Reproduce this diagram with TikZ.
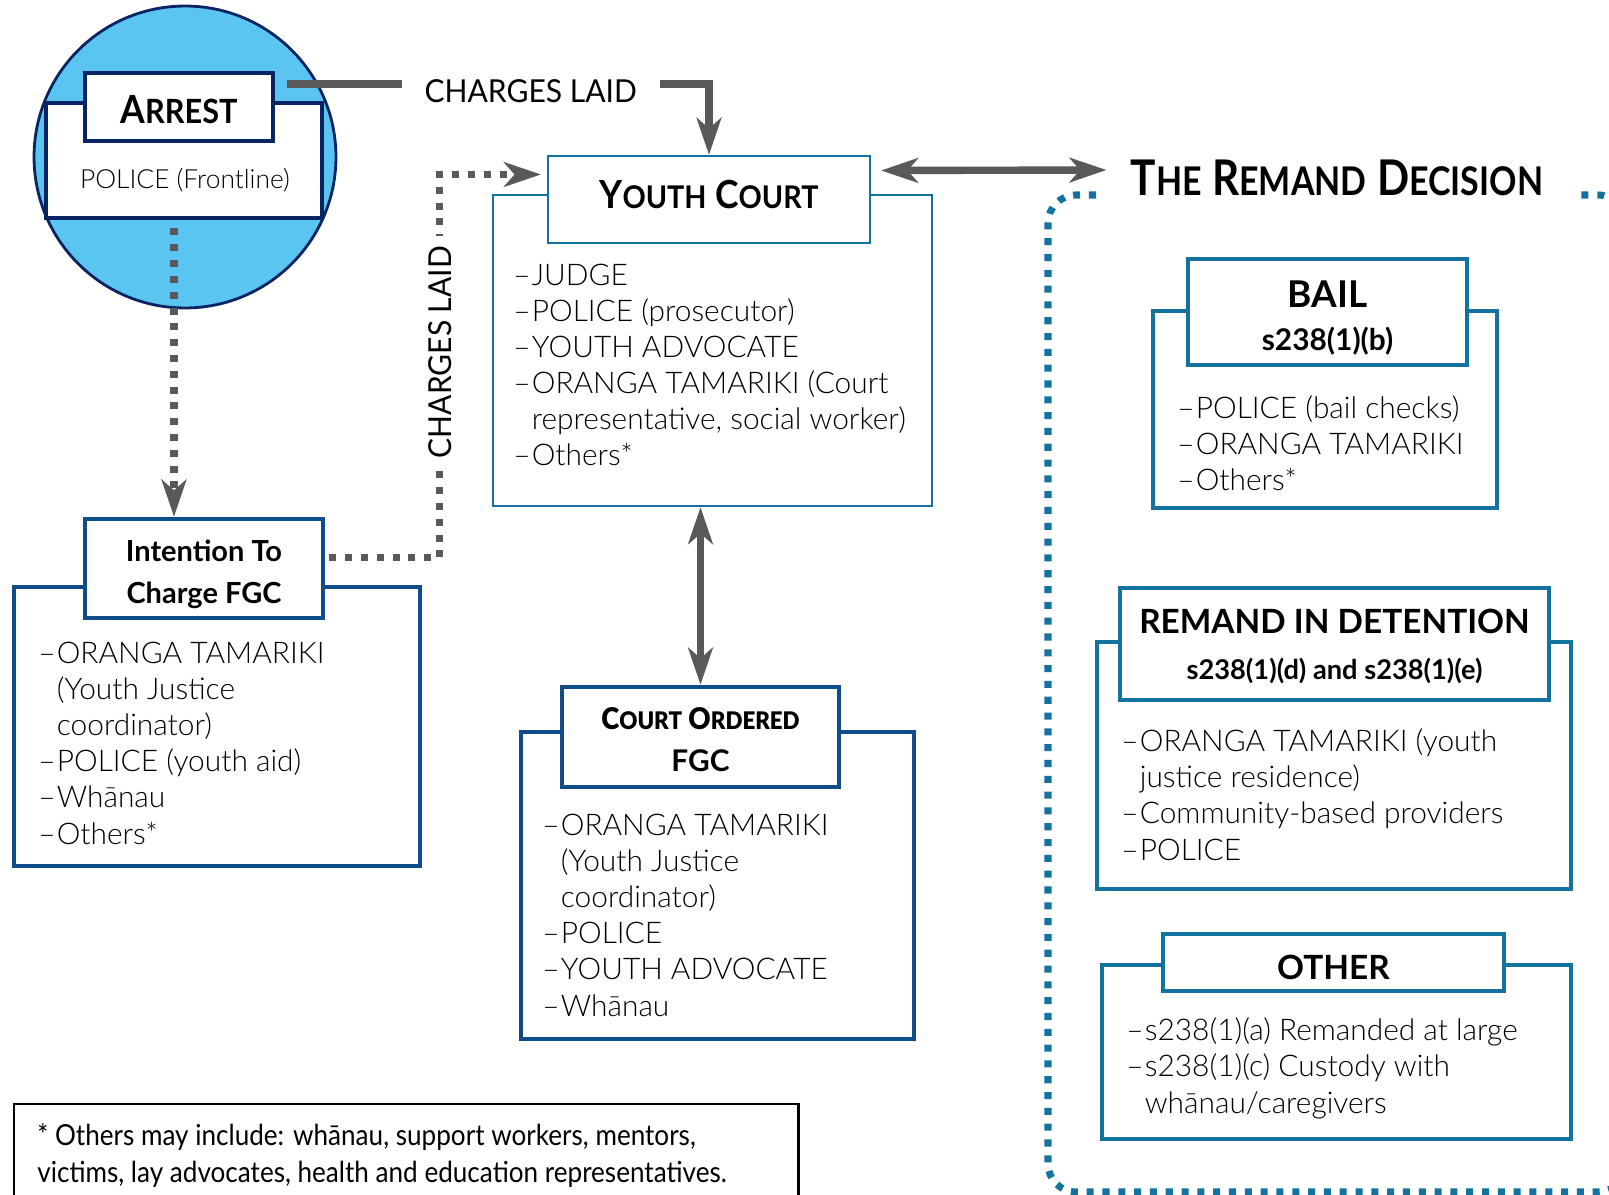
\documentclass[tikz,border=0pt]{standalone}
\usepackage{fontspec}
\setmainfont{Lato}[UprightFont=* Light, BoldFont=* Bold]
\newfontfamily\condfont{Lato}[FakeStretch=0.9]
\newfontfamily\labelfont{Lato}[FakeStretch=0.95]
\newfontfamily\scfont{Lato Bold}[FakeStretch=0.92]
\newfontfamily\titlefont{Lato Bold}[FakeStretch=0.86]
\usetikzlibrary{arrows.meta,positioning,calc,fit}

\definecolor{navy}{RGB}{10,36,99}
\definecolor{fgcblue}{RGB}{14,76,138}
\definecolor{courtblue}{RGB}{19,115,158}
\definecolor{skyfill}{RGB}{91,197,242}
\definecolor{arrowgrey}{RGB}{89,89,89}

\newcommand\lst{\fontsize{17}{20.5}\selectfont}
\newcommand\dsh{\makebox[0.62em][l]{–}}
\newcommand\ind{\hspace*{0.62em}}
\newcommand\bigsc[4]{{\fontsize{#1}{#1}\selectfont #3}{\fontsize{#2}{#2}\selectfont #4}}
\newcommand\tabstrut[1]{\rule{0pt}{#1}}

\begin{document}
\begin{tikzpicture}[
  x=0.02cm, y=-0.02cm, >=Stealth,
  every node/.style={inner sep=0pt},
  bodybox/.style={draw, fill=white},
  tabbox/.style={draw, fill=white, align=center, font=\bfseries},
  navybox/.style={draw=navy, line width=2.8pt},
  fgcbox/.style={draw=fgcblue, line width=2.6pt},
  remandbox/.style={draw=courtblue, line width=2.4pt},
  listtext/.style={anchor=base west, align=left, font=\lst},
  conn/.style={draw=arrowgrey, line width=4.2pt},
  dotconn/.style={draw=arrowgrey, line width=4pt, dash pattern=on 4pt off 5pt},
  headtip/.style={-{Stealth[length=21pt, width=14pt, inset=6pt]}},
  dbltip/.style={{Stealth[length=21pt, width=14pt, inset=6pt]}-{Stealth[length=21pt, width=14pt, inset=6pt]}},
  condlabel/.style={font=\labelfont\fontsize{18}{20}\selectfont, text=black, fill=white},
]
\useasboundingbox (0,0) rectangle (1609,1195);

% arrest
\node[circle, draw=navy, line width=1.6pt, fill=skyfill, minimum size=6.04cm] (arrestcircle) at (185,157) {};
\node[bodybox, navybox, fit={(46,103) (322,218)}] (arrestbody) {};
\node[font=\fontsize{15}{17}\selectfont] (police) at (185,180) {POLICE (Frontline)};
\node[tabbox, navybox, minimum width=3.76cm, minimum height=1.36cm, font=\scfont\fontsize{22}{26}\selectfont] (arrest) at (179,107)
  {\tabstrut{19pt}\bigsc{22}{19}{A}{RREST}};

% intention to charge FGC
\node[bodybox, fgcbox, fit={(14,587) (420,866)}] (itcbody) {};
\node[tabbox, fgcbox, minimum width=4.76cm, minimum height=1.98cm, font=\bfseries\fontsize{16.5}{24}\selectfont] (itc) at (204,568.5)
  {\tabstrut{19pt}Intention To\\Charge FGC};
\node[listtext] (itclist) at (38,844) {\dsh ORANGA TAMARIKI\\\ind(Youth Justice\\\ind coordinator)\\\dsh POLICE (youth aid)\\\dsh Whānau\\\dsh Others*};

% youth court
\node[bodybox, draw=courtblue, line width=1.3pt, fit={(493,195) (932,506)}] (ycbody) {};
\node[tabbox, draw=courtblue, line width=1.3pt, minimum width=6.44cm, minimum height=1.74cm, font=\scfont\fontsize{22}{26}\selectfont] (yc) at (709,199.5)
  {\rule[-6pt]{0pt}{6pt}\bigsc{22}{17.8}{Y}{OUTH}\ \bigsc{22}{17.8}{C}{OURT}};
\node[listtext] (yclist) at (513,466) {\dsh JUDGE\\\dsh POLICE (prosecutor)\\\dsh YOUTH ADVOCATE\\\dsh ORANGA TAMARIKI (Court\\\ind representative, social worker)\\\dsh Others*};

% court ordered FGC
\node[bodybox, fgcbox, fit={(521,732) (914,1039)}] (cofbody) {};
\node[tabbox, fgcbox, minimum width=5.54cm, minimum height=2cm, font=\bfseries\fontsize{17}{24}\selectfont] (cof) at (700.5,737)
  {\tabstrut{15.6pt}{\scfont\bigsc{17}{13.8}{C}{OURT}\ \bigsc{17}{13.8}{O}{RDERED}}\\FGC};
\node[listtext] (coflist) at (542,1016) {\dsh ORANGA TAMARIKI\\\ind(Youth Justice\\\ind coordinator)\\\dsh POLICE\\\dsh YOUTH ADVOCATE\\\dsh Whānau};

% the remand decision
\draw[draw=courtblue, line width=4pt, dash pattern=on 4pt off 5pt, rounded corners=16pt]
  (1096,195) -- (1048,195) -- (1048,1192) -- (1626,1192) -- (1626,195) -- (1575,195);
\node[font=\titlefont\fontsize{28}{32}\selectfont] (remand) at (1337,178)
  {\bigsc{28}{22.5}{T}{HE}\ \bigsc{28}{22.5}{R}{EMAND}\ \bigsc{28}{22.5}{D}{ECISION}};

\node[bodybox, remandbox, fit={(1153,311) (1497,508)}] (bailbody) {};
\node[tabbox, remandbox, minimum width=5.58cm, minimum height=2.12cm, font=\bfseries\fontsize{21}{25}\selectfont] (bail) at (1327.5,312)
  {\tabstrut{22pt}BAIL\\{\fontsize{17}{17}\selectfont s238(1)(b)}};
\node[listtext] (baillist) at (1177,491) {\dsh POLICE (bail checks)\\\dsh ORANGA TAMARIKI\\\dsh Others*};

\node[bodybox, remandbox, fit={(1097,642) (1571,889)}] (ridbody) {};
\node[tabbox, remandbox, minimum width=8.58cm, minimum height=2.24cm, font=\bfseries\fontsize{19}{26}\selectfont] (rid) at (1334.5,644)
  {\tabstrut{17pt}REMAND IN DETENTION\\{\fontsize{15.5}{15.5}\selectfont s238(1)(d) and s238(1)(e)}};
\node[listtext] (ridlist) at (1121,860) {\dsh ORANGA TAMARIKI (youth\\\ind justice residence)\\\dsh Community-based providers\\\dsh POLICE};

\node[bodybox, remandbox, fit={(1102,965) (1571,1139)}] (otherbody) {};
\node[tabbox, remandbox, minimum width=6.82cm, minimum height=1.14cm, font=\bfseries\fontsize{19}{22}\selectfont] (other) at (1333.5,962.5)
  {\tabstrut{19.5pt}OTHER};
\node[listtext] (otherlist) at (1126,1113) {\dsh s238(1)(a) Remanded at large\\\dsh s238(1)(c) Custody with\\\ind whānau/caregivers};

% footnote
\node[draw=black, line width=1.7pt, fit={(14,1104) (798,1215)}] (footbox) {};
\node[listtext, font=\condfont\fontsize{16.5}{21}\selectfont] (foottext) at (37,1182)
  {* Others may include: whānau, support workers, mentors,\\victims, lay advocates, health and education representatives.};

% connectors
\coordinate (clstart) at ($(arrest.east)+(12,-23)$);
\draw[conn, headtip] (clstart) -- (clstart -| yc.north)
  node[condlabel, pos=0.577, inner xsep=13pt, inner ysep=4pt, yshift=-4pt] (chargeslaid) {CHARGES LAID} -- (yc.north);

\coordinate (dropstart) at ($(arrestbody.south)+(-10,8)$);
\draw[dotconn, headtip] (dropstart) -- (dropstart |- itc.north);

\coordinate (itcout) at ($(itc.east)+(4,-11)$);
\draw[dotconn, headtip] (itcout) -| ($(yc.west)+(-107,-25)$)
  node[condlabel, pos=0.768, rotate=90, inner xsep=6pt, inner ysep=3pt] (chargeslaidv) {CHARGES LAID}
  -- ($(yc.west)+(-6,-25)$);

\draw[conn, dbltip] ($(yc.east)+(10,-29)$) -- ($(remand.west)+(-24,-8)$);
\draw[conn, dbltip] (ycbody.south -| cof.north) -- (cof.north);
\end{tikzpicture}
\end{document}
